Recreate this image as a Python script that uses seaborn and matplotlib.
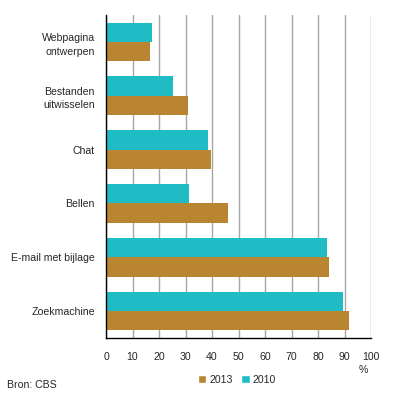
import matplotlib
matplotlib.use("Agg")
import matplotlib.pyplot as plt
import seaborn as sns
import pandas as pd
from matplotlib.patches import Patch

categories = ["Webpagina\nontwerpen", "Bestanden\nuitwisselen", "Chat", "Bellen", "E-mail met bijlage", "Zoekmachine"]
values_2010 = [17.4, 25.3, 38.5, 31.3, 83.4, 89.4]
values_2013 = [16.6, 30.9, 39.6, 46.0, 84.2, 91.7]
years = ["2010", "2013"]
xticks = [0, 10, 20, 30, 40, 50, 60, 70, 80, 90, 100]

c2010 = "#1fbcc6"
c2013 = "#ba8530"

df = pd.DataFrame({
    "cat": categories * 2,
    "val": values_2010 + values_2013,
    "year": ["2010"] * len(categories) + ["2013"] * len(categories),
})

sns.set_style("white")
plt.rcParams["font.family"] = ["Liberation Sans", "DejaVu Sans"]
fs = 7.6

fig = plt.figure(figsize=(3.96, 3.97), dpi=100)
ax = fig.add_axes([106 / 396, 1 - 338 / 397, (371 - 106) / 396, (338 - 15) / 397])

sns.barplot(data=df, y="cat", x="val", hue="year", hue_order=years, order=categories,
            palette={"2010": c2010, "2013": c2013}, orient="h", width=0.72,
            saturation=1, ax=ax, legend=False, linewidth=0, edgecolor="none", zorder=3)

ax.set_xlim(0, 100)
ax.set_ylim(5.5, -0.5)
ax.set_xticks(xticks)
ax.set_xticklabels([str(t) for t in xticks], fontsize=fs)
ax.tick_params(axis="x", direction="out", length=4, width=1, color="black", pad=6)
ax.tick_params(axis="y", length=0, pad=8, labelsize=fs)
ax.set_xlabel("")
ax.set_ylabel("")
ax.xaxis.grid(True, color="#a6a6a6", linewidth=1, zorder=0)
ax.yaxis.grid(False)
ax.set_axisbelow(True)
for s in ["top", "right"]:
    ax.spines[s].set_visible(False)
for s in ["left", "bottom"]:
    ax.spines[s].set_color("black")
    ax.spines[s].set_linewidth(1)
    ax.spines[s].set_zorder(5)
for lbl in ax.get_yticklabels():
    lbl.set_horizontalalignment("right")
    lbl.set_multialignment("right")
    lbl.set_linespacing(1.45)

fig.text(363 / 396, 1 - 370 / 397, "%", fontsize=fs, ha="center", va="center")
fig.text(7 / 396, 1 - 385 / 397, "Bron: CBS", fontsize=fs, ha="left", va="center")

handles = [Patch(facecolor=c2013, label="2013"), Patch(facecolor=c2010, label="2010")]
fig.legend(handles=handles, loc="center", bbox_to_anchor=(237 / 396, 1 - 380 / 397),
           ncol=2, frameon=False, fontsize=fs, handlelength=0.8, handleheight=0.8,
           handletextpad=0.3, columnspacing=0.8)

fig.savefig("out.png", dpi=100)
